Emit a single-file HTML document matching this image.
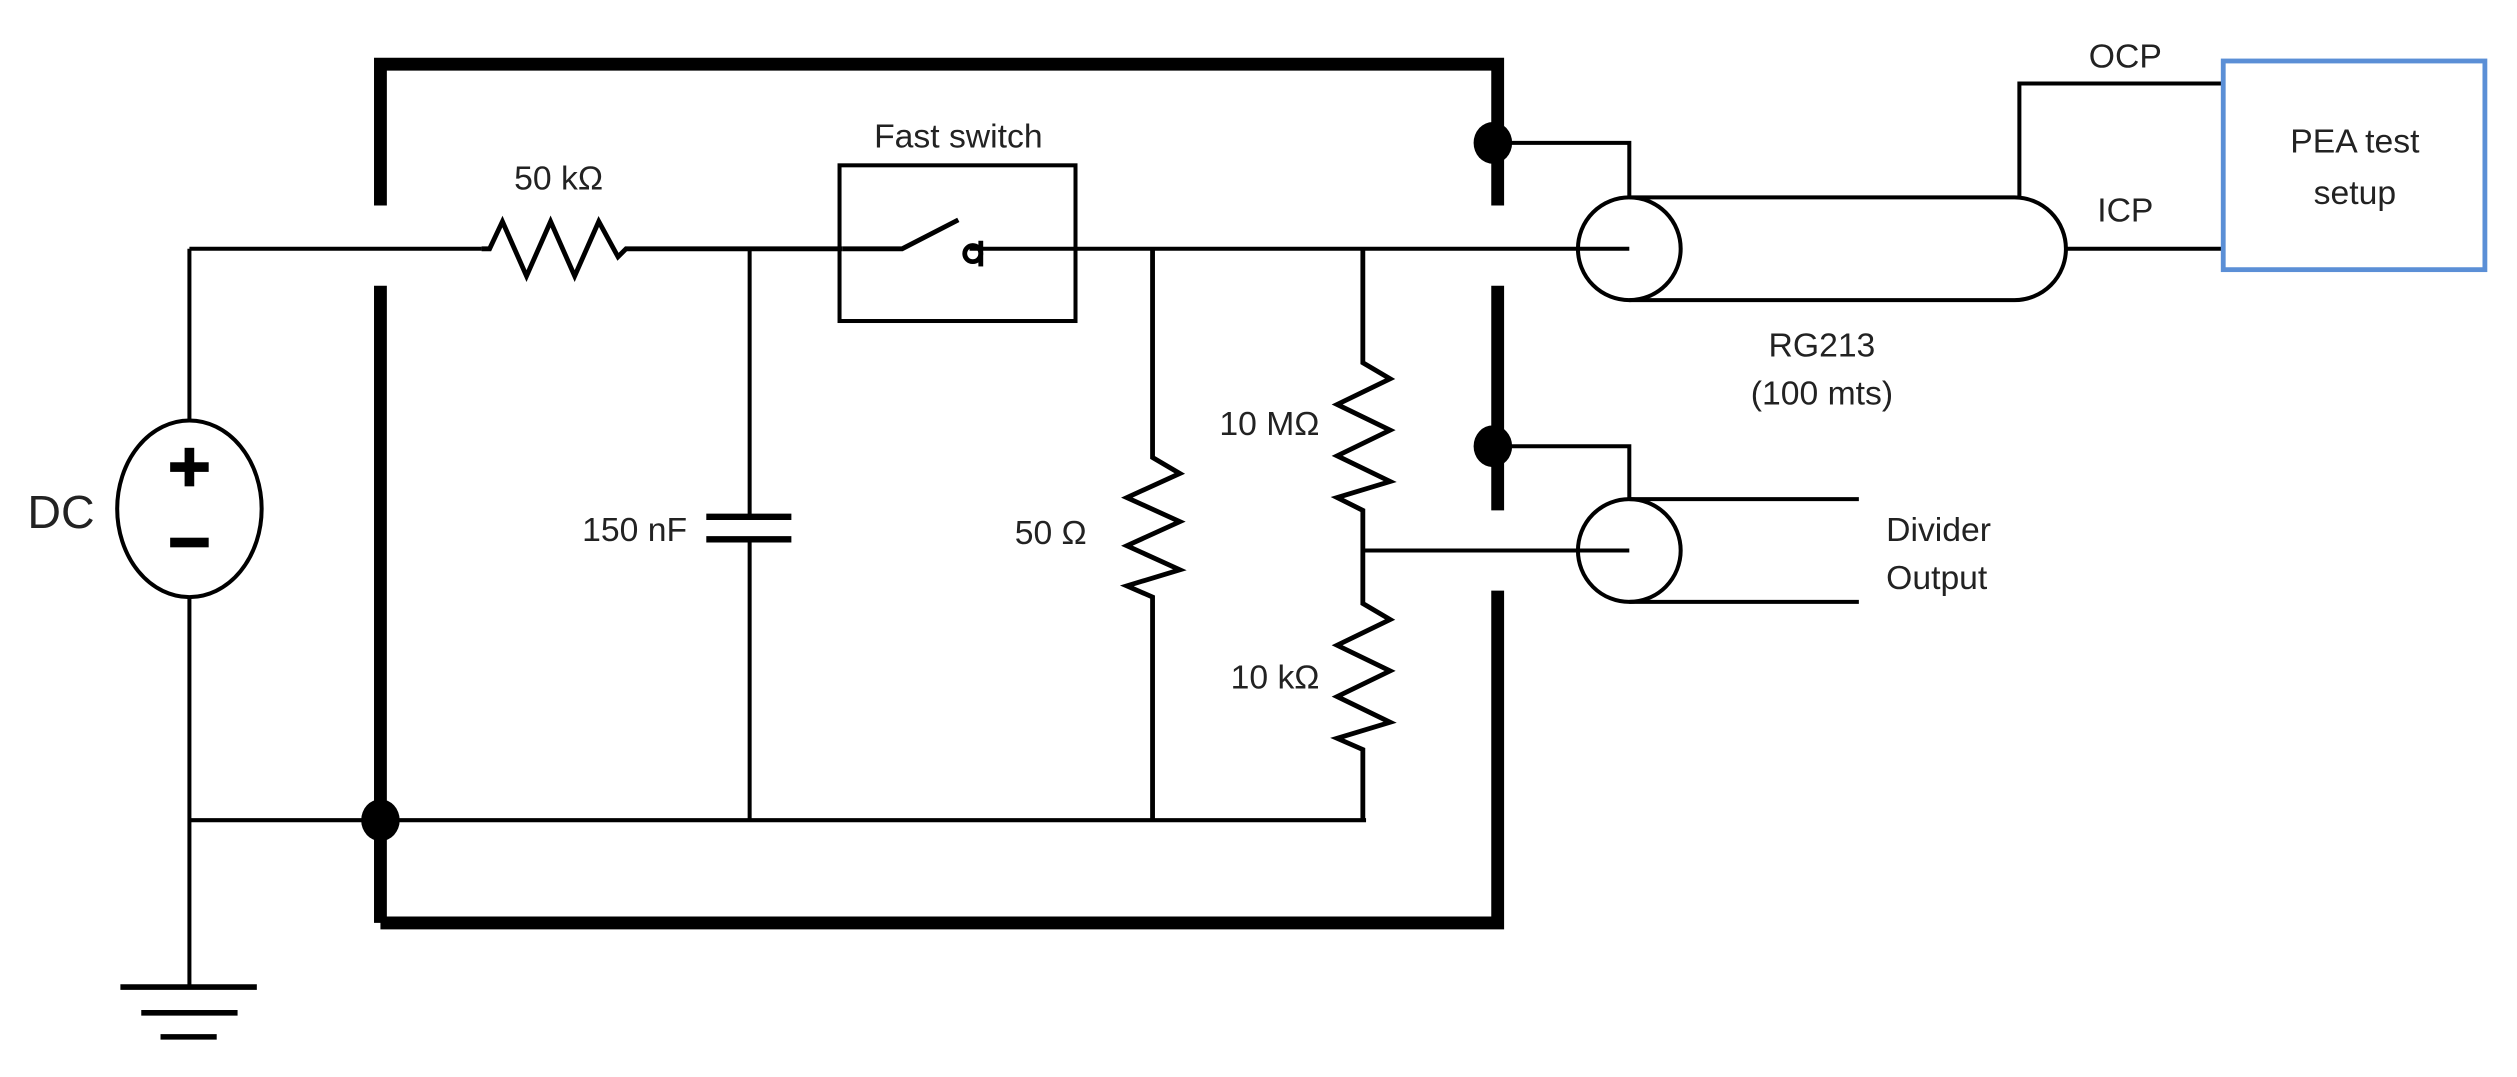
<!DOCTYPE html>
<html><head><style>html,body{margin:0;padding:0;background:#fff;}svg{display:block;}</style></head>
<body>
<svg width="2517" height="1077" viewBox="0 0 1568 671" preserveAspectRatio="none" xmlns="http://www.w3.org/2000/svg" font-family="Liberation Sans, DejaVu Sans, sans-serif" fill="none" stroke="#000">
<g stroke-width="8" stroke-linecap="butt">
<polyline points="237,128 237,40 933,40 933,128"/>
<line x1="237" y1="178" x2="237" y2="575"/>
<polyline points="237,575 933,575 933,368"/>
<line x1="933" y1="178" x2="933" y2="318"/>
</g>
<g stroke-width="2.5">
<line x1="118" y1="155" x2="118" y2="262"/>
<line x1="118" y1="155" x2="300" y2="155"/>
<ellipse cx="118" cy="317" rx="45" ry="55"/>
<line x1="118" y1="372" x2="118" y2="615"/>
<line x1="75" y1="615" x2="160" y2="615" stroke-width="3.5"/>
<line x1="88" y1="631" x2="148" y2="631" stroke-width="3.5"/>
<line x1="100" y1="646" x2="135" y2="646" stroke-width="3.5"/>
<polyline points="300,155 305,155 313,138 328,172 343,138 358,172 373,138 385,160 390,155 525,155" stroke-width="3"/>
<rect x="523" y="103" width="147" height="97"/>
<polyline points="525,155 562,155 597,137" stroke-width="3"/>
<line x1="604" y1="155" x2="1015" y2="155"/>
<line x1="467" y1="155" x2="467" y2="322"/>
<line x1="440" y1="322" x2="493" y2="322" stroke-width="4"/>
<line x1="440" y1="336" x2="493" y2="336" stroke-width="4"/>
<line x1="467" y1="336" x2="467" y2="511"/>
<polyline points="718,155 718,285 735,295 702,310 735,325 702,340 735,355 702,365 718,372 718,511" stroke-width="3"/>
<polyline points="849,155 849,226 866,236 833,252 866,268 833,284 866,300 833,310 849,318 849,376 866,386 833,402 866,418 833,434 866,450 833,460 849,467 849,511" stroke-width="3"/>
<line x1="849" y1="343" x2="1015" y2="343"/>
<line x1="118" y1="511" x2="851" y2="511"/>
<polyline points="930,89 1015,89 1015,123"/>
<ellipse cx="1015" cy="155" rx="32" ry="32"/>
<path d="M1015,123 L1255,123 A32,32 0 0 1 1255,187 L1015,187"/>
<line x1="1287" y1="155" x2="1385" y2="155"/>
<polyline points="1258,123 1258,52 1385,52"/>
<polyline points="930,278 1015,278 1015,311"/>
<ellipse cx="1015" cy="343" rx="32" ry="32"/>
<line x1="1015" y1="311" x2="1158" y2="311"/>
<line x1="1015" y1="375" x2="1158" y2="375"/>
</g>
<circle cx="606" cy="158" r="5" stroke-width="3"/>
<line x1="611" y1="150" x2="611" y2="166" stroke-width="3"/>
<g fill="#000" stroke="none">
<ellipse cx="237" cy="511" rx="12" ry="13"/>
<ellipse cx="930" cy="89" rx="12" ry="13"/>
<ellipse cx="930" cy="278" rx="12" ry="13"/>
<rect x="115" y="279" width="6" height="24"/>
<rect x="106" y="288" width="24" height="6"/>
<rect x="106" y="335" width="24" height="6"/>
</g>
<rect x="1385" y="38" width="163" height="130" stroke="#5b8fd6" stroke-width="3"/>
<g fill="#222" stroke="none" font-size="21" text-anchor="middle">
<text x="38" y="329" font-size="29">DC</text>
<text x="348" y="118">50 kΩ</text>
<text x="597" y="92">Fast switch</text>
<text x="428" y="337" text-anchor="end">150 nF</text>
<text x="677" y="339" text-anchor="end">50 Ω</text>
<text x="822" y="271" text-anchor="end">10 MΩ</text>
<text x="822" y="429" text-anchor="end">10 kΩ</text>
<text x="1324" y="42">OCP</text>
<text x="1324" y="138">ICP</text>
<text x="1467" y="95">PEA test</text>
<text x="1467" y="127">setup</text>
<text x="1135" y="222">RG213</text>
<text x="1135" y="252">(100 mts)</text>
<text x="1175" y="337" text-anchor="start">Divider</text>
<text x="1175" y="367" text-anchor="start">Output</text>
</g>
</svg>
</body></html>
